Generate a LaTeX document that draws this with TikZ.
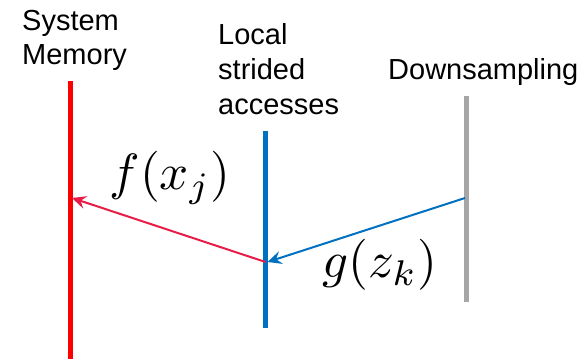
\documentclass[tikz,border=0pt]{standalone}
\usepackage{fontspec}
\setmainfont{Liberation Sans}
\usetikzlibrary{arrows.meta}
\definecolor{memred}{RGB}{255,0,0}
\definecolor{arrred}{RGB}{232,28,70}
\definecolor{locblue}{RGB}{0,112,192}
\definecolor{dsgray}{RGB}{166,166,166}
\tikzset{
  lbl/.style={inner sep=0pt, anchor=base west, align=left, font=\fontsize{29}{35}\selectfont},
  bar/.style={line width=5pt},
  conn/.style={line width=2pt, -{Stealth[length=14pt,width=13pt,inset=5pt]}},
  mathlbl/.style={inner sep=0pt, scale=5.1}
}
\begin{document}
\begin{tikzpicture}[x=1pt,y=-1pt]
\useasboundingbox (0,0) rectangle (581,361);
% labels (anchor = baseline of the last line)
\node[lbl] (sys) at (22,65) {System\\Memory};
\node[lbl] (loc) at (218,114) {Local\\strided\\accesses};
\node[lbl] (ds) at (388,80) {Downsampling};
% bars
\coordinate (rt) at (70,81);
\coordinate (rb) at (70,359);
\coordinate (bt) at (265.5,131);
\coordinate (bb) at (265.5,328);
\coordinate (gt) at (466,96);
\coordinate (gb) at (466,302);
\draw[bar, memred] (rt) -- (rb);
\draw[bar, locblue] (bt) -- (bb);
\draw[bar, dsgray] (gt) -- (gb);
% connector end points
\coordinate (gA) at (465,198);
\coordinate (bIn) at (267.5,262);
\coordinate (bOut) at (265.5,262);
\coordinate (rIn) at (72,198);
\draw[conn, locblue] (gA) -- (bIn);
\draw[conn, arrred] (bOut) -- (rIn);
% math labels
\node[mathlbl] (f) at (170,178) {$f(x_j)$};
\node[mathlbl] (g) at (380,265) {$g(z_k)$};
\end{tikzpicture}
\end{document}
